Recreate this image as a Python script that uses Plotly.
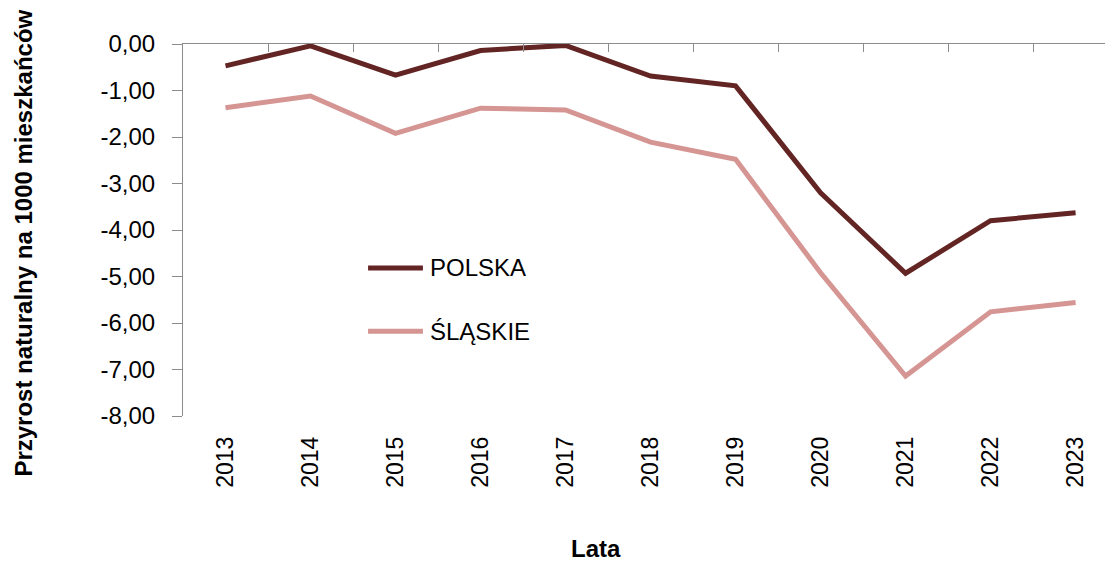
import plotly.graph_objects as go

# dane
lata = ['2013', '2014', '2015', '2016', '2017', '2018', '2019', '2020', '2021', '2022', '2023']
polska = [-0.47, -0.04, -0.67, -0.14, -0.03, -0.69, -0.90, -3.20, -4.93, -3.80, -3.63]
slaskie = [-1.37, -1.12, -1.92, -1.38, -1.42, -2.11, -2.48, -4.92, -7.14, -5.76, -5.56]
y_ticks = [0, -1, -2, -3, -4, -5, -6, -7, -8]
y_labels = ['0,00', '-1,00', '-2,00', '-3,00', '-4,00', '-5,00', '-6,00', '-7,00', '-8,00']

series = [
    ('POLSKA', polska, '#632523'),
    ('ŚLĄSKIE', slaskie, '#D59593'),
]

FONT = 'Liberation Sans, Arial'
AXIS_COLOR = '#8C8C8C'

fig = go.Figure()

for name, vals, color in series:
    fig.add_trace(go.Scatter(
        x=lata, y=vals, name=name, mode='lines',
        line=dict(color=color, width=5),
        xaxis='x', yaxis='y',
        showlegend=False,
    ))

# dummy trace so the bottom label axis is drawn
fig.add_trace(go.Scatter(x=lata, y=[None] * len(lata), xaxis='x2', yaxis='y',
                         showlegend=False, hoverinfo='skip'))

x_range = [-0.5, 10.44]

# manual legend (line sample + label)
shapes = []
annotations = []
leg_y = [0.398, 0.228]
for (name, vals, color), ly in zip(series, leg_y):
    shapes.append(dict(type='line', xref='paper', yref='paper',
                       x0=0.199, x1=0.258, y0=ly, y1=ly,
                       line=dict(color=color, width=5)))
    annotations.append(dict(text=name, xref='paper', yref='paper',
                            x=0.263, y=ly, xanchor='left', yanchor='middle',
                            showarrow=False,
                            font=dict(family=FONT, size=24, color='black')))

annotations.append(dict(text='<b>Lata</b>', xref='paper', yref='paper',
                        x=0.444, y=-0.355, xanchor='center', yanchor='middle',
                        showarrow=False,
                        font=dict(family=FONT, size=24, color='black')))

annotations.append(dict(text='<b>Przyrost naturalny na 1000 mieszkańców</b>',
                        xref='paper', yref='paper', textangle=-90,
                        x=-0.171, y=0.466, xanchor='center', yanchor='middle',
                        showarrow=False,
                        font=dict(family=FONT, size=24, color='black')))

fig.update_layout(
    width=1105, height=557,
    margin=dict(l=175, r=0, t=36, b=149),
    paper_bgcolor='white', plot_bgcolor='white',
    font=dict(family=FONT, color='black'),
    shapes=shapes,
    annotations=annotations,
    xaxis=dict(
        type='category', side='top', range=x_range,
        showline=True, linecolor=AXIS_COLOR, linewidth=1,
        ticks='inside', ticklen=8, tickcolor=AXIS_COLOR, tickson='boundaries',
        showticklabels=False, showgrid=False, zeroline=False,
    ),
    xaxis2=dict(
        type='category', side='bottom', overlaying='x', anchor='y', range=x_range,
        showline=False, ticks='', showgrid=False, zeroline=False,
        tickangle=-90, tickfont=dict(family=FONT, size=23),
        ticklabelstandoff=15,
    ),
    yaxis=dict(
        range=[-8, 0], tickvals=y_ticks, ticktext=y_labels,
        showline=True, linecolor=AXIS_COLOR, linewidth=1,
        ticks='outside', ticklen=10, tickcolor=AXIS_COLOR,
        showgrid=False, zeroline=False,
        tickfont=dict(family=FONT, size=24),
        ticklabelstandoff=12,
    ),
)

fig.write_html('out.html')
